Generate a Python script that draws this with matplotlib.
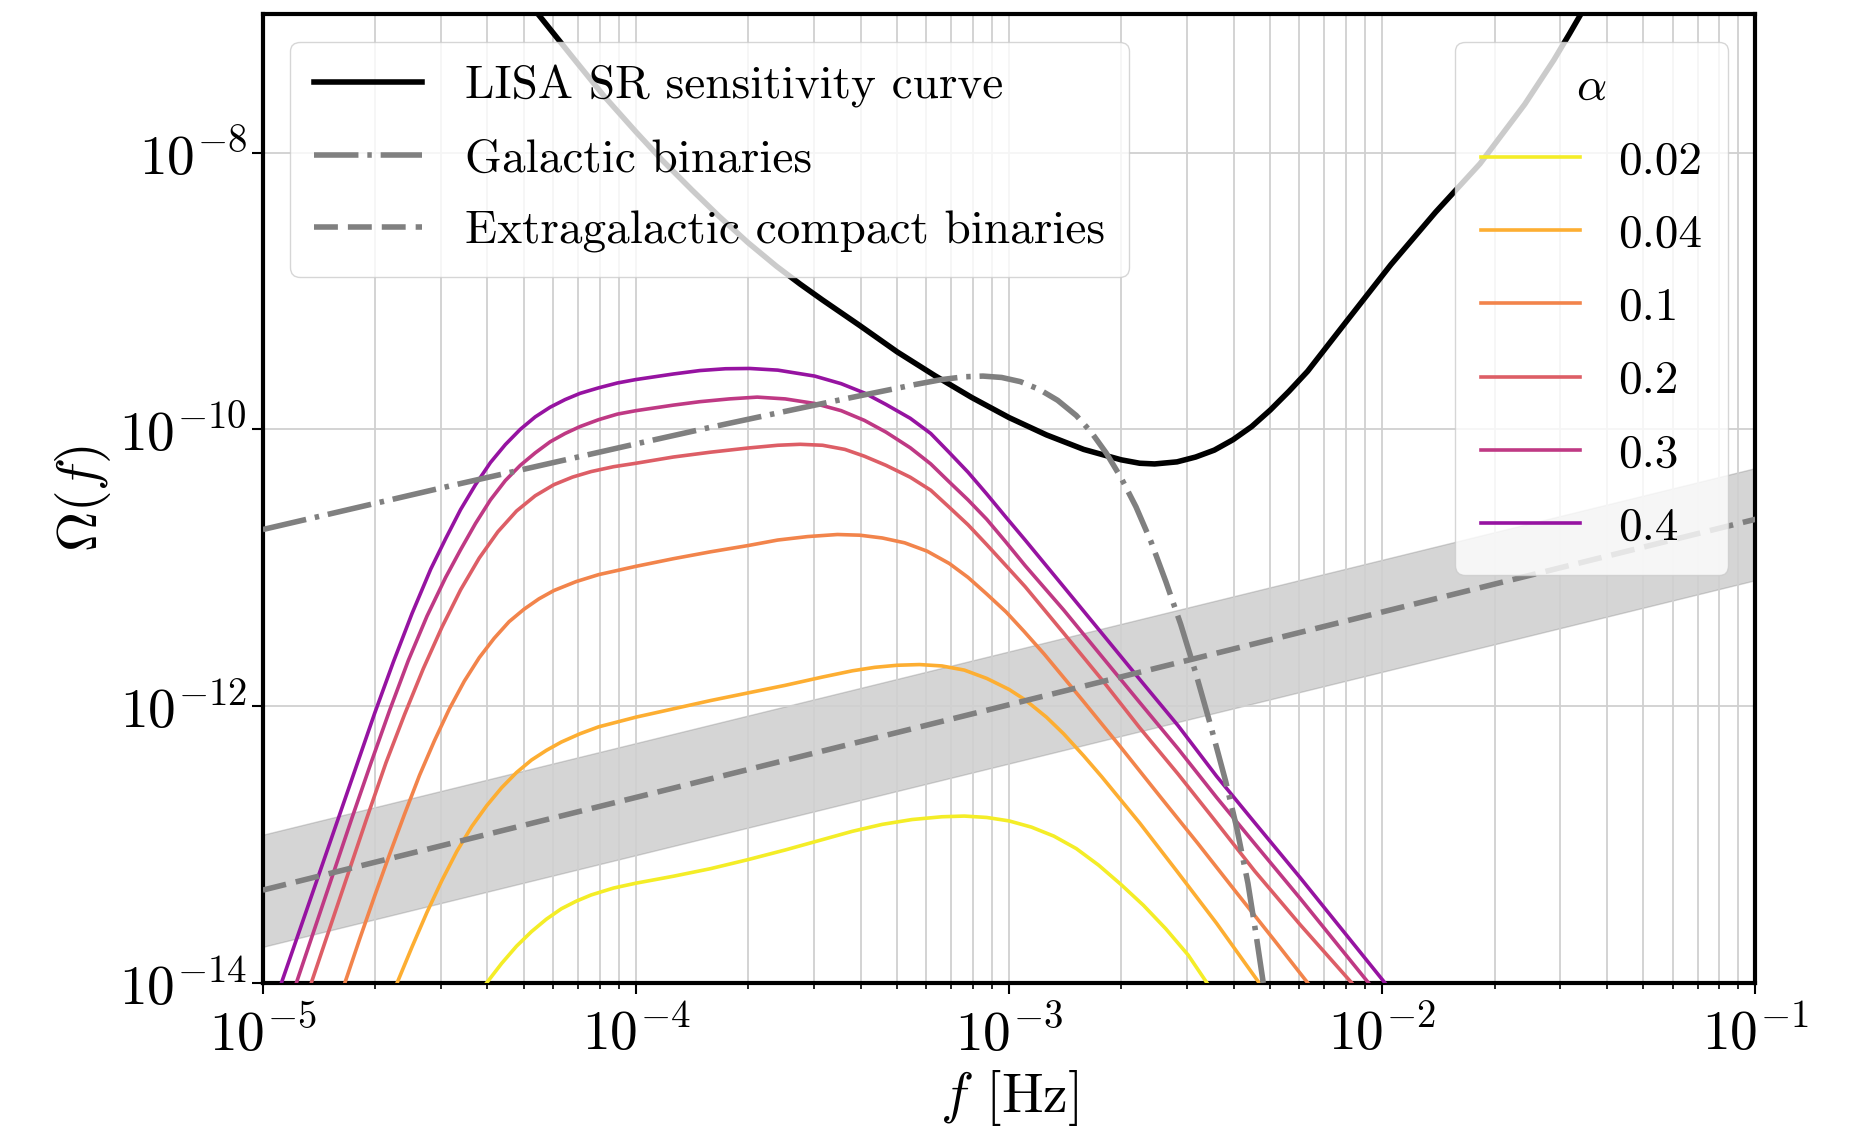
import numpy as np
import matplotlib.pyplot as plt
from matplotlib.ticker import LogLocator, NullLocator

plt.rcParams['font.family'] = 'serif'
plt.rcParams['font.serif'] = ['cmr10']
plt.rcParams['mathtext.fontset'] = 'cm'
plt.rcParams['axes.formatter.use_mathtext'] = True

# curves, stored as log10(f / Hz) and log10(Omega)
lisa_logf = [-4.262, -4.17, -4.085, -4.0, -3.931, -3.85, -3.777, -3.70, -3.623, -3.56,
             -3.5, -3.4, -3.3, -3.2, -3.1, -3.0, -2.9, -2.8, -2.7, -2.65,
             -2.61, -2.55, -2.5, -2.45, -2.4, -2.35, -2.3, -2.25, -2.2, -2.096,
             -1.977, -1.857, -1.738, -1.618, -1.54, -1.498, -1.468]
lisa_logomega = [-7.0, -7.31, -7.593, -7.85, -8.051, -8.27, -8.461, -8.65, -8.822, -8.95,
                 -9.065, -9.25, -9.44, -9.61, -9.77, -9.915, -10.04, -10.145, -10.22, -10.245,
                 -10.25, -10.235, -10.20, -10.15, -10.075, -9.98, -9.86, -9.725, -9.58, -9.22,
                 -8.81, -8.43, -8.08, -7.65, -7.33, -7.14, -7.0]

gb_logf = [-5.0, -4.5, -4.0, -3.8, -3.6, -3.45, -3.35, -3.25, -3.18, -3.12,
           -3.07, -3.02, -2.97, -2.92, -2.87, -2.82, -2.78, -2.74, -2.70, -2.66,
           -2.62, -2.58, -2.54, -2.50, -2.46, -2.42, -2.39, -2.36, -2.34, -2.32, -2.315]
gb_logomega = [-10.724, -10.41, -10.105, -9.985, -9.87, -9.785, -9.73, -9.675, -9.64, -9.62,
               -9.615, -9.625, -9.655, -9.71, -9.79, -9.90, -10.02, -10.17, -10.35, -10.56,
               -10.81, -11.10, -11.41, -11.76, -12.14, -12.54, -12.88, -13.28, -13.62, -13.98, -14.1]

egb_logf = [-5.0, -1.0]
egb_logomega = [-13.33, -10.65]
egb_logupper = [-12.93, -10.28]
egb_loglower = [-13.74, -11.09]

alpha_labels = ['0.02', '0.04', '0.1', '0.2', '0.3', '0.4']

a002_logf = [-4.40, -4.36, -4.32, -4.28, -4.24, -4.20, -4.16, -4.12, -4.06, -4.00,
             -3.90, -3.80, -3.70, -3.60, -3.50, -3.42, -3.34, -3.26, -3.18, -3.12,
             -3.06, -3.00, -2.94, -2.88, -2.82, -2.76, -2.70, -2.64, -2.58, -2.52, -2.47]
a002_logomega = [-14.0, -13.86, -13.735, -13.63, -13.54, -13.465, -13.41, -13.365, -13.315, -13.28,
                 -13.23, -13.175, -13.11, -13.04, -12.965, -12.905, -12.855, -12.82, -12.80, -12.795,
                 -12.805, -12.83, -12.875, -12.94, -13.03, -13.15, -13.29, -13.44, -13.61, -13.80, -14.0]

a004_logf = [-4.64, -4.60, -4.56, -4.52, -4.48, -4.44, -4.40, -4.36, -4.32, -4.28,
             -4.24, -4.20, -4.15, -4.10, -4.00, -3.90, -3.80, -3.70, -3.60, -3.50,
             -3.42, -3.36, -3.30, -3.24, -3.18, -3.12, -3.06, -3.00, -2.957, -2.90,
             -2.854, -2.80, -2.752, -2.65, -2.547, -2.444, -2.33]
a004_logomega = [-14.0, -13.74, -13.49, -13.26, -13.05, -12.87, -12.72, -12.59, -12.48, -12.39,
                 -12.32, -12.26, -12.20, -12.15, -12.08, -12.02, -11.96, -11.905, -11.85, -11.79,
                 -11.745, -11.72, -11.705, -11.70, -11.71, -11.74, -11.80, -11.88, -11.955, -12.08,
                 -12.20, -12.36, -12.51, -12.845, -13.205, -13.57, -14.0]

a01_logf = [-4.78, -4.74, -4.70, -4.66, -4.62, -4.58, -4.54, -4.50, -4.46, -4.42,
            -4.38, -4.34, -4.30, -4.26, -4.22, -4.16, -4.10, -4.00, -3.90, -3.80,
            -3.70, -3.62, -3.54, -3.46, -3.40, -3.34, -3.28, -3.22, -3.16, -3.11,
            -3.06, -3.008, -2.96, -2.906, -2.803, -2.70, -2.598, -2.495, -2.393, -2.29, -2.20]
a01_logomega = [-14.0, -13.68, -13.37, -13.07, -12.78, -12.50, -12.25, -12.02, -11.82, -11.65,
                -11.51, -11.39, -11.30, -11.225, -11.165, -11.10, -11.05, -10.99, -10.935, -10.885,
                -10.84, -10.80, -10.775, -10.76, -10.765, -10.785, -10.82, -10.88, -10.97, -11.07,
                -11.19, -11.32, -11.46, -11.624, -11.959, -12.30, -12.645, -12.99, -13.34, -13.69, -14.0]

a02_logf = [-4.87, -4.82, -4.77, -4.72, -4.67, -4.62, -4.57, -4.52, -4.47, -4.42,
            -4.37, -4.32, -4.27, -4.22, -4.17, -4.12, -4.06, -4.00, -3.90, -3.80,
            -3.70, -3.62, -3.56, -3.50, -3.44, -3.388, -3.33, -3.265, -3.21, -3.162,
            -3.11, -3.06, -3.01, -2.957, -2.854, -2.752, -2.65, -2.547, -2.444, -2.342,
            -2.22, -2.082]
a02_logomega = [-14.0, -13.60, -13.20, -12.80, -12.41, -12.06, -11.73, -11.43, -11.16, -10.93,
                -10.74, -10.59, -10.48, -10.40, -10.345, -10.305, -10.27, -10.245, -10.20, -10.165,
                -10.135, -10.115, -10.108, -10.115, -10.145, -10.194, -10.26, -10.346, -10.44, -10.559,
                -10.69, -10.833, -10.98, -11.137, -11.472, -11.807, -12.157, -12.492, -12.842, -13.192,
                -13.58, -14.0]

a03_logf = [-4.91, -4.86, -4.81, -4.76, -4.71, -4.66, -4.61, -4.56, -4.51, -4.47,
            -4.43, -4.39, -4.35, -4.31, -4.27, -4.23, -4.19, -4.15, -4.10, -4.05,
            -4.00, -3.90, -3.8285, -3.75, -3.675, -3.60, -3.521, -3.45, -3.388, -3.33,
            -3.265, -3.21, -3.162, -3.11, -3.06, -3.01, -2.957, -2.854, -2.752, -2.65,
            -2.547, -2.444, -2.342, -2.22, -2.037]
a03_logomega = [-14.0, -13.60, -13.20, -12.80, -12.41, -12.03, -11.67, -11.35, -11.07, -10.87,
                -10.68, -10.51, -10.37, -10.26, -10.17, -10.09, -10.03, -9.98, -9.93, -9.89,
                -9.865, -9.825, -9.80, -9.78, -9.767, -9.78, -9.813, -9.865, -9.935, -10.02,
                -10.133, -10.25, -10.376, -10.51, -10.65, -10.81, -10.985, -11.305, -11.64, -11.974,
                -12.309, -12.66, -12.994, -13.39, -14.0]

a04_logf = [-4.95, -4.90, -4.85, -4.80, -4.75, -4.70, -4.65, -4.60, -4.55, -4.51,
            -4.47, -4.43, -4.39, -4.35, -4.31, -4.27, -4.23, -4.19, -4.15, -4.10,
            -4.05, -4.00, -3.90, -3.8285, -3.76, -3.695, -3.62, -3.521, -3.45, -3.388,
            -3.33, -3.265, -3.21, -3.162, -3.11, -3.06, -3.01, -2.957, -2.854, -2.752,
            -2.65, -2.547, -2.444, -2.342, -2.22, -1.993]
a04_logomega = [-14.0, -13.61, -13.22, -12.83, -12.44, -12.05, -11.68, -11.33, -11.01, -10.79,
                -10.58, -10.40, -10.24, -10.11, -10.00, -9.91, -9.84, -9.785, -9.74, -9.70,
                -9.665, -9.64, -9.60, -9.575, -9.562, -9.56, -9.572, -9.615, -9.67, -9.737,
                -9.82, -9.92, -10.03, -10.163, -10.31, -10.467, -10.63, -10.80, -11.137, -11.472,
                -11.807, -12.142, -12.507, -12.842, -13.24, -14.0]

alpha_logf = [a002_logf, a004_logf, a01_logf, a02_logf, a03_logf, a04_logf]
alpha_logomega = [a002_logomega, a004_logomega, a01_logomega, a02_logomega, a03_logomega, a04_logomega]
alpha_colors = plt.cm.plasma([0.97, 0.82, 0.70, 0.58, 0.45, 0.32])


def p(v):
    return 10.0 ** np.asarray(v)


fig, ax = plt.subplots(figsize=(18.56, 11.32), dpi=100)
fig.subplots_adjust(left=0.1416, right=0.9458, top=0.9874, bottom=0.1318)

ax.fill_between(p(egb_logf), p(egb_loglower), p(egb_logupper), color='gray', alpha=0.33, zorder=1)
h_lisa, = ax.plot(p(lisa_logf), p(lisa_logomega), color='black', lw=4, zorder=2,
                  label='LISA SR sensitivity curve')

alpha_handles = []
for lf, lo, c, lab in zip(alpha_logf, alpha_logomega, alpha_colors, alpha_labels):
    h, = ax.plot(p(lf), p(lo), color=c, lw=2.6, zorder=3, label=lab)
    alpha_handles.append(h)

h_gb, = ax.plot(p(gb_logf), p(gb_logomega), color='gray', lw=4, zorder=4,
                dashes=(8, 1.6, 0.8, 1.6), label='Galactic binaries')
h_egb, = ax.plot(p(egb_logf), p(egb_logomega), color='gray', lw=4, zorder=4,
                 dashes=(4.3, 1.8), label='Extragalactic compact binaries')

ax.set_xscale('log')
ax.set_yscale('log')
ax.set_xlim(1e-5, 1e-1)
ax.set_ylim(1e-14, 1e-7)
ax.set_yticks([1e-14, 1e-12, 1e-10, 1e-8])
ax.yaxis.set_minor_locator(NullLocator())
ax.xaxis.set_major_locator(LogLocator(base=10, numticks=10))
ax.xaxis.set_minor_locator(LogLocator(base=10, subs=np.arange(2, 10), numticks=10))

ax.grid(True, which='both', axis='x', color='#d0d0d0', lw=1.3)
ax.grid(True, which='major', axis='y', color='#d0d0d0', lw=1.3)

for s in ax.spines.values():
    s.set_linewidth(3)
ax.tick_params(which='major', labelsize=40, length=8, width=1.5)
ax.tick_params(axis='x', which='major', pad=9)
ax.tick_params(which='minor', length=4, width=1.2)

ax.set_xlabel('$f$ [Hz]', fontsize=40, labelpad=4)
ax.set_ylabel(r'$\Omega(f)$', fontsize=40)

leg1 = ax.legend(handles=[h_lisa, h_gb, h_egb], loc='upper left', fontsize=34,
                 handlelength=2.3, handletextpad=0.9, labelspacing=0.64,
                 borderpad=0.5, borderaxespad=0.58)
ax.add_artist(leg1)
ax.legend(handles=alpha_handles, loc='upper right', fontsize=34, title=r'$\alpha$',
          title_fontsize=34, handlelength=2.1, handletextpad=0.8, labelspacing=0.66,
          borderpad=0.55, borderaxespad=0.58)

fig.savefig('out.png', dpi=100)
